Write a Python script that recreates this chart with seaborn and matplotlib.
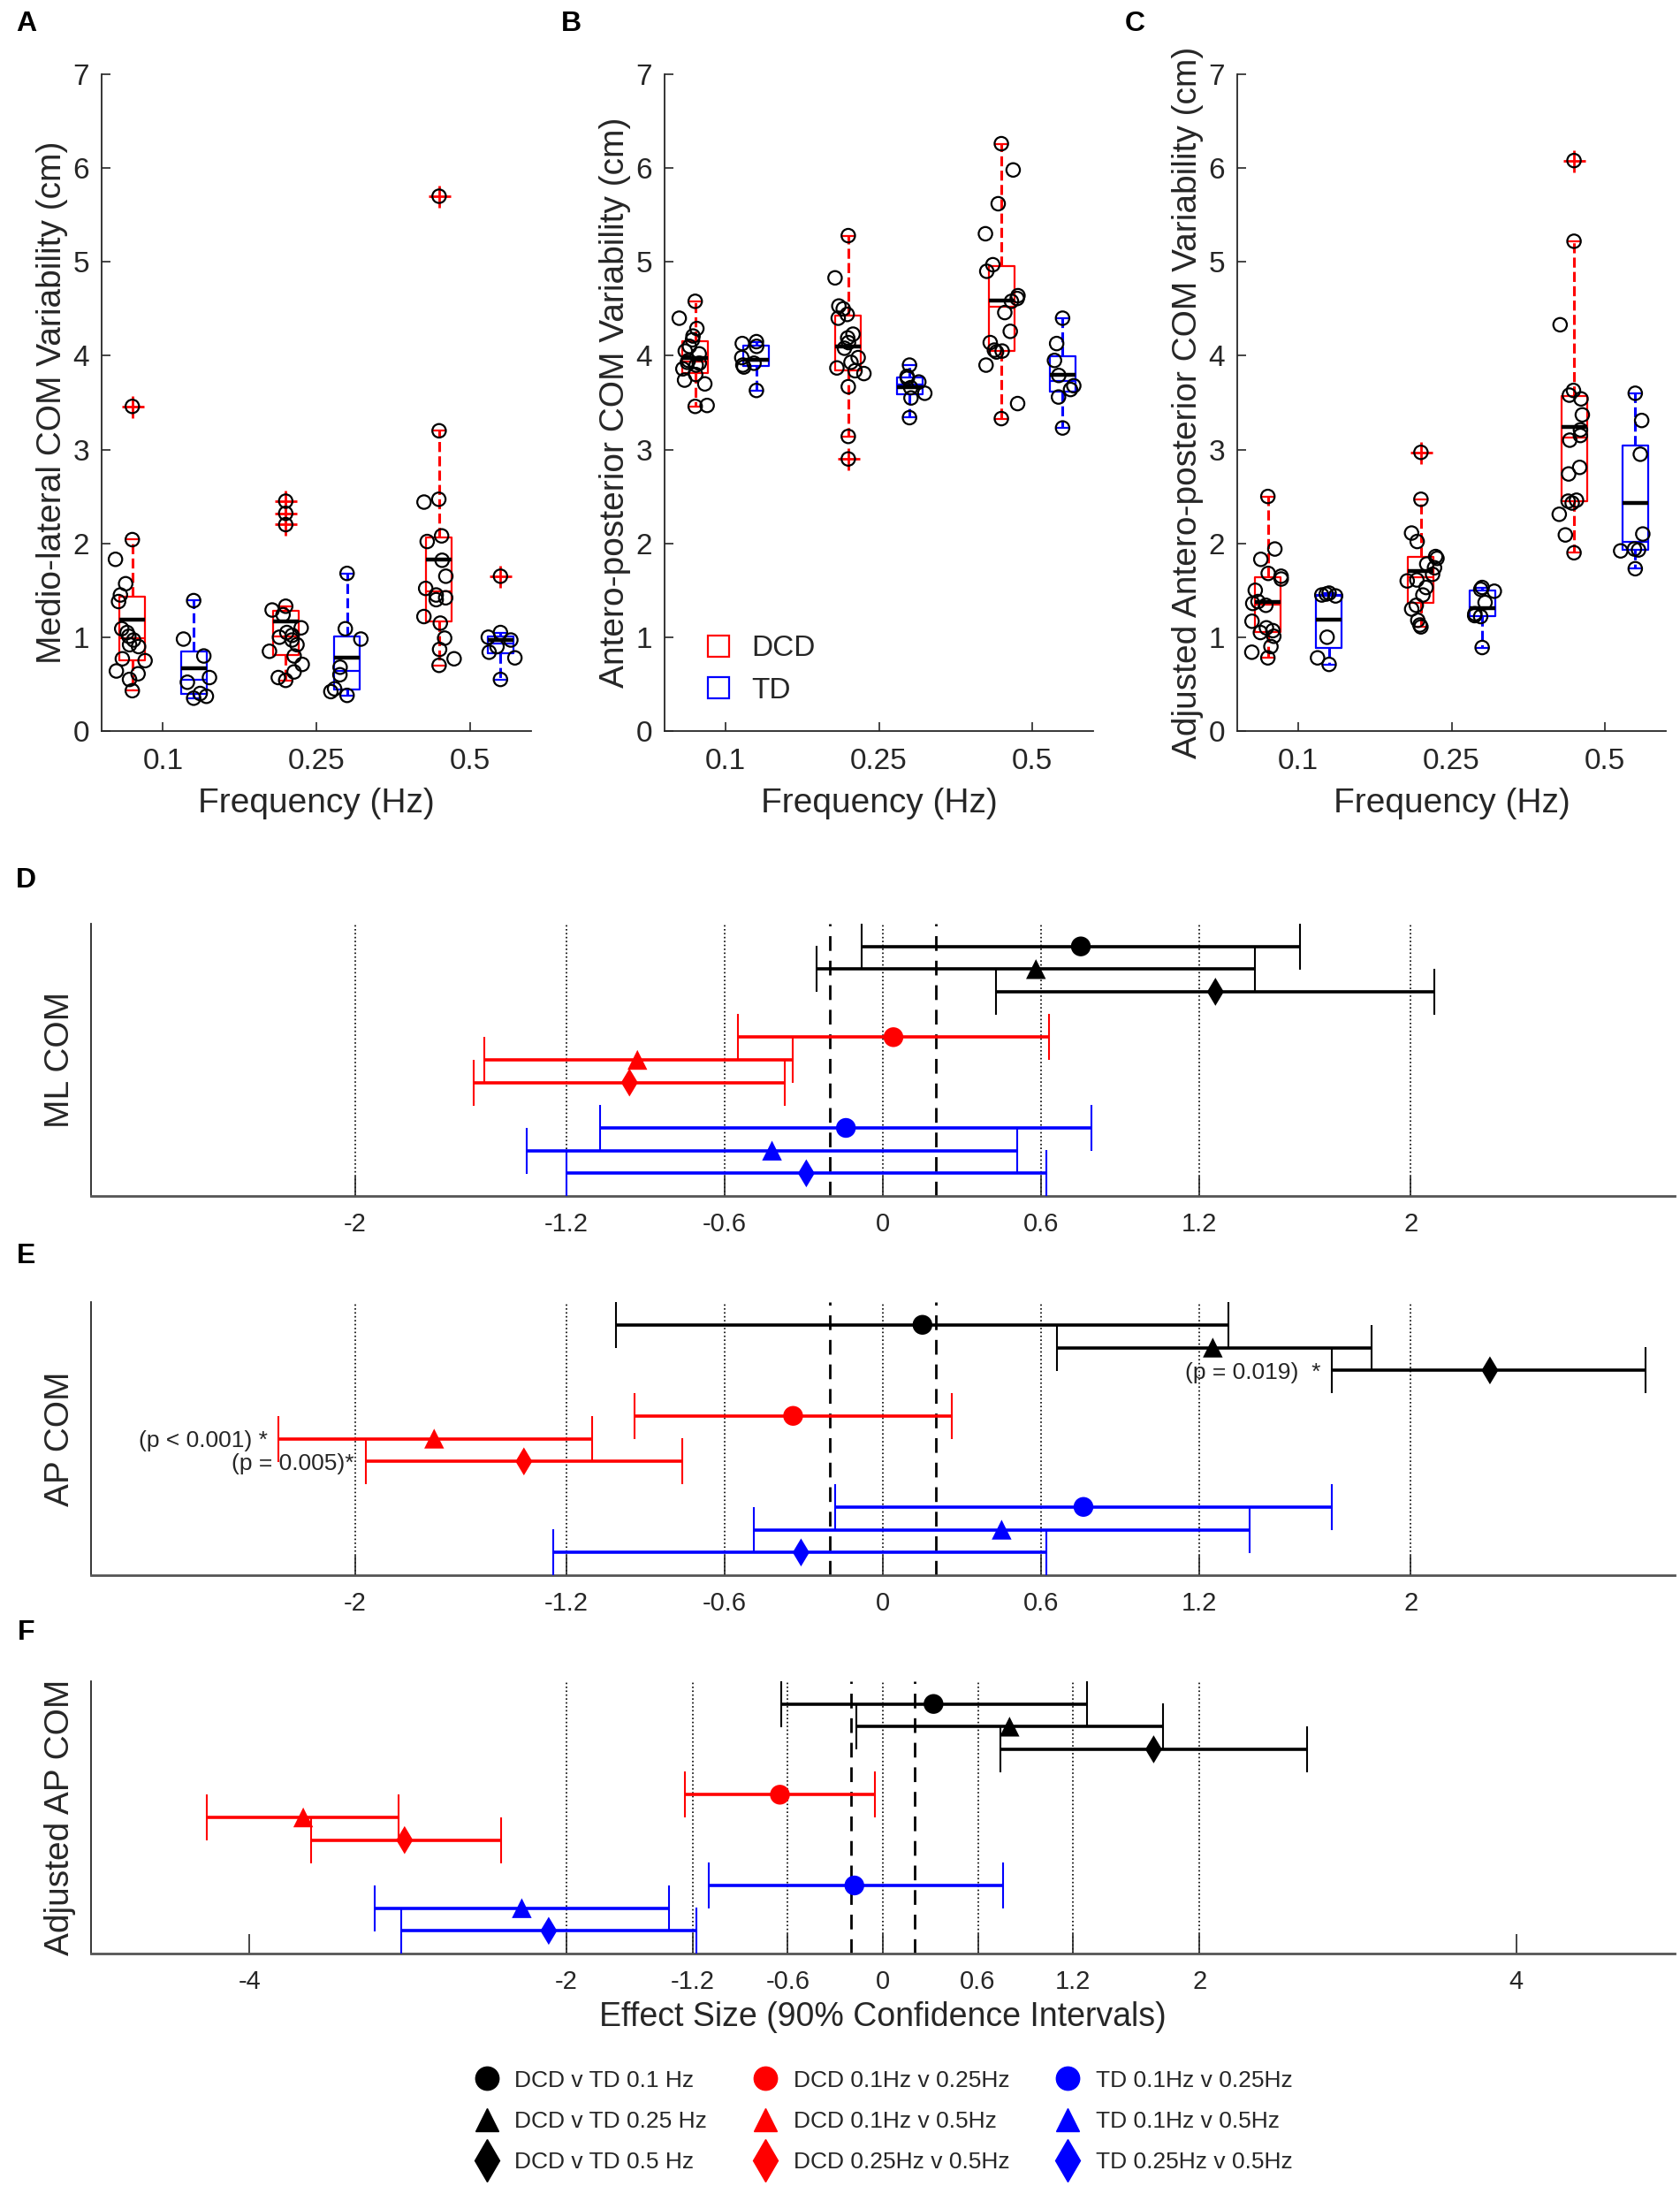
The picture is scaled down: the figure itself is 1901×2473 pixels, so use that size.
import numpy as np
import pandas as pd
import matplotlib
matplotlib.use("Agg")
import matplotlib.pyplot as plt
from matplotlib.lines import Line2D
import seaborn as sns

# ---------------- data: panels A-C (cm) ----------------
freqs = ["0.1", "0.25", "0.5"]
groups = ["DCD", "TD"]

# A: medio-lateral COM variability
ml_dcd_01 = [3.46, 2.04, 1.83, 1.57, 1.45, 1.38, 1.09, 1.05, 1.01, 0.97, 0.92, 0.90, 0.77, 0.75, 0.64, 0.61, 0.55, 0.43]
ml_td_01 = [1.39, 0.98, 0.80, 0.57, 0.52, 0.40, 0.37, 0.35]
ml_dcd_025 = [2.45, 2.32, 2.20, 1.33, 1.29, 1.24, 1.10, 1.05, 1.02, 1.00, 0.97, 0.92, 0.85, 0.80, 0.71, 0.63, 0.57, 0.54]
ml_td_025 = [1.68, 1.09, 0.98, 0.68, 0.60, 0.45, 0.42, 0.38]
ml_dcd_05 = [5.70, 3.20, 2.47, 2.44, 2.08, 2.02, 1.82, 1.65, 1.52, 1.45, 1.42, 1.40, 1.22, 1.15, 0.99, 0.87, 0.77, 0.70]
ml_td_05 = [1.65, 1.05, 1.00, 0.97, 0.90, 0.84, 0.78, 0.55]

# B: antero-posterior COM variability
ap_dcd_01 = [4.58, 4.40, 4.29, 4.21, 4.17, 4.10, 4.05, 4.02, 3.95, 3.93, 3.92, 3.90, 3.86, 3.80, 3.74, 3.70, 3.47, 3.46]
ap_td_01 = [4.15, 4.13, 4.10, 3.98, 3.92, 3.90, 3.88, 3.63]
ap_dcd_025 = [5.28, 4.83, 4.53, 4.50, 4.44, 4.40, 4.23, 4.19, 4.14, 4.08, 3.98, 3.93, 3.87, 3.84, 3.81, 3.67, 3.14, 2.90]
ap_td_025 = [3.90, 3.78, 3.76, 3.72, 3.66, 3.60, 3.55, 3.34]
ap_dcd_05 = [6.26, 5.98, 5.62, 5.30, 4.97, 4.90, 4.64, 4.61, 4.58, 4.46, 4.26, 4.14, 4.06, 4.05, 4.04, 3.90, 3.49, 3.33]
ap_td_05 = [4.40, 4.13, 3.95, 3.79, 3.68, 3.64, 3.56, 3.23]

# C: adjusted antero-posterior COM variability
adj_dcd_01 = [2.50, 1.94, 1.83, 1.68, 1.65, 1.62, 1.50, 1.38, 1.36, 1.34, 1.17, 1.10, 1.07, 1.05, 1.01, 0.90, 0.84, 0.78]
adj_td_01 = [1.47, 1.46, 1.45, 1.44, 1.00, 0.78, 0.71]
adj_dcd_025 = [2.97, 2.47, 2.11, 2.02, 1.86, 1.84, 1.78, 1.74, 1.67, 1.61, 1.60, 1.53, 1.45, 1.34, 1.30, 1.18, 1.13, 1.11]
adj_td_025 = [1.53, 1.51, 1.49, 1.37, 1.25, 1.23, 1.22, 0.89]
adj_dcd_05 = [6.08, 5.22, 4.33, 3.63, 3.58, 3.54, 3.37, 3.21, 3.15, 3.10, 2.81, 2.74, 2.46, 2.45, 2.43, 2.31, 2.09, 1.90]
adj_td_05 = [3.60, 3.31, 2.95, 2.10, 1.94, 1.93, 1.92, 1.73]

# ---------------- data: panels D-F (effect sizes, 90% CI) ----------------
comparisons = ["DCD v TD 0.1 Hz", "DCD v TD 0.25 Hz", "DCD v TD 0.5 Hz",
               "DCD 0.1Hz v 0.25Hz", "DCD 0.1Hz v 0.5Hz", "DCD 0.25Hz v 0.5Hz",
               "TD 0.1Hz v 0.25Hz", "TD 0.1Hz v 0.5Hz", "TD 0.25Hz v 0.5Hz"]

ml_est = [0.75, 0.58, 1.26, 0.04, -0.93, -0.96, -0.14, -0.42, -0.29]
ml_lo = [-0.08, -0.25, 0.43, -0.55, -1.51, -1.55, -1.07, -1.35, -1.20]
ml_hi = [1.58, 1.41, 2.09, 0.63, -0.34, -0.37, 0.79, 0.51, 0.62]

ap_est = [0.15, 1.25, 2.30, -0.34, -1.70, -1.36, 0.76, 0.45, -0.31]
ap_lo = [-1.01, 0.66, 1.70, -0.94, -2.29, -1.96, -0.18, -0.49, -1.25]
ap_hi = [1.31, 1.85, 2.89, 0.26, -1.10, -0.76, 1.70, 1.39, 0.62]

adj_est = [0.32, 0.80, 1.71, -0.65, -3.66, -3.02, -0.18, -2.28, -2.11]
adj_lo = [-0.64, -0.17, 0.74, -1.25, -4.27, -3.61, -1.10, -3.21, -3.04]
adj_hi = [1.29, 1.77, 2.68, -0.05, -3.06, -2.41, 0.76, -1.35, -1.18]

ap_notes = {2: "(p = 0.019)  *", 4: "(p < 0.001) *", 5: "(p = 0.005)*"}

grid_vals = [-2, -1.2, -0.6, 0, 0.6, 1.2, 2]
small_effect = [-0.2, 0.2]
ticks_de = [-2, -1.2, -0.6, 0, 0.6, 1.2, 2]
ticks_f = [-4, -2, -1.2, -0.6, 0, 0.6, 1.2, 2, 4]

# ---------------- style ----------------
sns.set_style("ticks")
plt.rcParams["font.family"] = ["Liberation Sans", "DejaVu Sans"]
plt.rcParams["text.color"] = "#262626"
plt.rcParams["axes.labelcolor"] = "#262626"
plt.rcParams["axes.edgecolor"] = "#262626"
plt.rcParams["xtick.color"] = "#262626"
plt.rcParams["ytick.color"] = "#262626"

group_colors = {"DCD": "#ff0000", "TD": "#0000ff"}
row_colors = ["k", "k", "k", "#ff0000", "#ff0000", "#ff0000", "#0000ff", "#0000ff", "#0000ff"]
row_markers = ["o", "^", "d"] * 3

W, H = 1901, 2473
fig = plt.figure(figsize=(W / 100, H / 100), dpi=100)


def px_axes(left, top, right, bottom):
    return fig.add_axes([left / W, 1 - bottom / H, (right - left) / W, (bottom - top) / H])


def long_table(series):
    rows = []
    for (freq, grp), vals in series.items():
        for v in vals:
            rows.append({"freq": freq, "group": grp, "value": v})
    return pd.DataFrame(rows)


def center_extremes(ax):
    # put outliers and whisker-end points back on the box centre line
    for coll in ax.collections:
        offs = np.asarray(coll.get_offsets(), dtype=float)
        if len(offs) == 0:
            continue
        x, y = offs[:, 0].copy(), offs[:, 1]
        centre = np.round(x.mean() / 0.2) * 0.2
        q1, q3 = np.percentile(y, [25, 75])
        lo_f, hi_f = q1 - 1.5 * (q3 - q1), q3 + 1.5 * (q3 - q1)
        inside = y[(y >= lo_f) & (y <= hi_f)]
        mask = (y < lo_f) | (y > hi_f) | (y == inside.max()) | (y == inside.min())
        x[mask] = centre
        coll.set_offsets(np.column_stack([x, y]))


def box_panel(ax, df, ylabel, seed):
    np.random.seed(seed)
    sns.boxplot(data=df, x="freq", y="value", hue="group", order=freqs, hue_order=groups,
                palette=group_colors, fill=False, width=0.8, gap=0.58, whis=1.5,
                linewidth=1.6, showmeans=True, meanline=True,
                meanprops=dict(color="k", ls="-", lw=3.2),
                whiskerprops=dict(ls="--", lw=2.2),
                flierprops=dict(marker="+", markersize=18, markeredgecolor="#ff0000",
                                markeredgewidth=2),
                legend=False, ax=ax)
    sns.stripplot(data=df, x="freq", y="value", hue="group", order=freqs, hue_order=groups,
                  palette={"DCD": "k", "TD": "k"}, dodge=True, jitter=0.22, size=11,
                  linewidth=1.6, legend=False, ax=ax, zorder=4)
    for coll in ax.collections:
        coll.set_facecolor("none")
        coll.set_edgecolor("k")
    center_extremes(ax)
    ax.set_xlim(-0.4, 2.4)
    ax.set_ylim(0, 7)
    ax.set_yticks(range(8))
    ax.set_xlabel("Frequency (Hz)", fontsize=28, labelpad=10)
    ax.set_ylabel(ylabel, fontsize=28, labelpad=4)
    ax.tick_params(direction="in", length=7, width=1.2, labelsize=24)
    ax.tick_params(axis="x", pad=14)
    ax.tick_params(axis="y", pad=10)
    sns.despine(ax=ax)
    for s in ax.spines.values():
        s.set_linewidth(1.3)


def forest_panel(ax, est, lo, hi, xlim, ticks, ylabel, notes=None):
    est, lo, hi = np.asarray(est), np.asarray(lo), np.asarray(hi)
    rows = np.array([g * 4 + k + 1 for g in range(3) for k in range(3)])
    for gx in grid_vals:
        ax.axvline(gx, color="k", ls=":", lw=1.2, zorder=0)
    for dx in small_effect:
        ax.axvline(dx, color="k", ls=(0, (6, 4)), lw=2.0, zorder=0)
    for g in range(3):
        sl = slice(3 * g, 3 * g + 3)
        ax.errorbar(est[sl], rows[sl], xerr=[est[sl] - lo[sl], hi[sl] - est[sl]],
                    fmt="none", ecolor=row_colors[3 * g], elinewidth=2.6,
                    capsize=19, capthick=1.5, zorder=3)
    df = pd.DataFrame({"est": est, "row": rows, "comp": comparisons})
    sns.scatterplot(data=df, x="est", y="row", hue="comp", style="comp",
                    palette=dict(zip(comparisons, row_colors)),
                    markers=dict(zip(comparisons, row_markers)),
                    s=260, linewidth=0, legend=False, ax=ax, zorder=5)
    if notes:
        for i, txt in notes.items():
            ax.annotate(txt, xy=(lo[i], rows[i]), xytext=(-9, -2), textcoords="offset points",
                        ha="right", va="center", fontsize=19)
    ax.set_xlim(*xlim)
    ax.set_ylim(12, 0)
    ax.set_yticks([])
    ax.set_xticks(ticks)
    ax.set_xticklabels([f"{t:g}" for t in ticks])
    ax.set_xlabel("")
    ax.set_ylabel(ylabel, fontsize=28, labelpad=12)
    ax.tick_params(axis="x", direction="in", length=16, width=1.2, labelsize=21, pad=13)
    sns.despine(ax=ax)
    ax.spines["bottom"].set_linewidth(2.0)
    ax.spines["bottom"].set_color("#555555")
    ax.spines["left"].set_linewidth(1.3)


# ---------------- top row ----------------
ax_a = px_axes(115, 84, 601, 827)
ax_b = px_axes(752, 84, 1237, 827)
ax_c = px_axes(1400, 84, 1885, 827)

df_ml = long_table({("0.1", "DCD"): ml_dcd_01, ("0.1", "TD"): ml_td_01,
                    ("0.25", "DCD"): ml_dcd_025, ("0.25", "TD"): ml_td_025,
                    ("0.5", "DCD"): ml_dcd_05, ("0.5", "TD"): ml_td_05})
df_ap = long_table({("0.1", "DCD"): ap_dcd_01, ("0.1", "TD"): ap_td_01,
                    ("0.25", "DCD"): ap_dcd_025, ("0.25", "TD"): ap_td_025,
                    ("0.5", "DCD"): ap_dcd_05, ("0.5", "TD"): ap_td_05})
df_adj = long_table({("0.1", "DCD"): adj_dcd_01, ("0.1", "TD"): adj_td_01,
                     ("0.25", "DCD"): adj_dcd_025, ("0.25", "TD"): adj_td_025,
                     ("0.5", "DCD"): adj_dcd_05, ("0.5", "TD"): adj_td_05})

box_panel(ax_a, df_ml, "Medio-lateral COM Variability (cm)", 1)
box_panel(ax_b, df_ap, "Antero-posterior COM Variability (cm)", 2)
box_panel(ax_c, df_adj, "Adjusted Antero-posterior COM Variability (cm)", 3)

grp_handles = [Line2D([], [], ls="none", marker="s", ms=17, mfc="none", mec=group_colors[g], mew=1.6)
               for g in groups]
ax_b.legend(grp_handles, groups, loc="lower left", bbox_to_anchor=(0.03, 0.0), frameon=False,
            fontsize=24, handletextpad=0.6, labelspacing=0.5, handlelength=1.0)

# ---------------- forest plots ----------------
ax_d = px_axes(103, 1045, 1895, 1353)
ax_e = px_axes(103, 1473, 1895, 1782)
ax_f = px_axes(103, 1902, 1895, 2210)

forest_panel(ax_d, ml_est, ml_lo, ml_hi, (-3, 3), ticks_de, "ML COM")
forest_panel(ax_e, ap_est, ap_lo, ap_hi, (-3, 3), ticks_de, "AP COM", ap_notes)
forest_panel(ax_f, adj_est, adj_lo, adj_hi, (-5, 5), ticks_f, "Adjusted AP COM")
ax_f.set_xlabel("Effect Size (90% Confidence Intervals)", fontsize=27, labelpad=6)

cmp_handles = [Line2D([], [], ls="none", marker=m, color=c, ms=19 if m != "d" else 24)
               for m, c in zip(row_markers, row_colors)]
fig.legend(cmp_handles, comparisons, ncol=3, loc="center", bbox_to_anchor=(1000 / W, 1 - 2400 / H),
           frameon=False, fontsize=19, handlelength=1.0, handletextpad=0.7,
           columnspacing=2.0, labelspacing=0.85)

# ---------------- panel letters ----------------
for letter, x, y in [("A", 30, 27), ("B", 646, 27), ("C", 1284, 27),
                     ("D", 29, 996), ("E", 30, 1421), ("F", 30, 1847)]:
    fig.text(x / W, 1 - y / H, letter, fontsize=23, fontweight="bold", ha="center", va="center",
             color="k")

fig.savefig("out.png", dpi=100)
